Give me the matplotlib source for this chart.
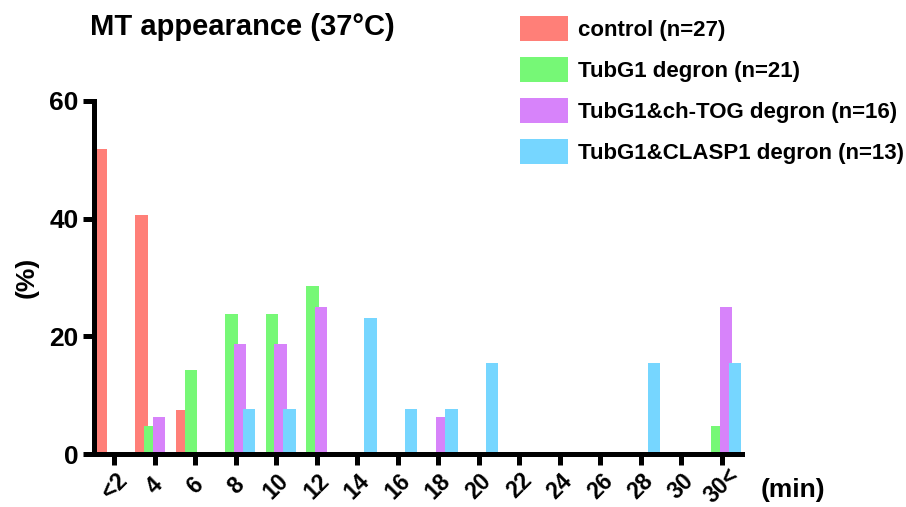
import numpy as np
import matplotlib
matplotlib.use("Agg")
import matplotlib.pyplot as plt

plt.rcParams['font.family'] = ['Liberation Sans', 'DejaVu Sans']
plt.rcParams['font.weight'] = 'bold'

# time bins (min)
cats = ['<2', '4', '6', '8', '10', '12', '14', '16', '18', '20',
        '22', '24', '26', '28', '30', '30<']

# % of cells per bin
control = [51.9, 40.7, 7.4, 0, 0, 0, 0, 0, 0, 0, 0, 0, 0, 0, 0, 0]
tubg1 = [0, 4.8, 14.3, 23.8, 23.8, 28.6, 0, 0, 0, 0, 0, 0, 0, 0, 0, 4.8]
tubg1_tog = [0, 6.25, 0, 18.75, 18.75, 25.0, 0, 0, 6.25, 0, 0, 0, 0, 0, 0, 25.0]
tubg1_clasp = [0, 0, 0, 7.7, 7.7, 0, 23.1, 7.7, 7.7, 15.4, 0, 0, 0, 15.4, 0, 15.4]

labels = ['control (n=27)', 'TubG1 degron (n=21)',
          'TubG1&ch-TOG degron (n=16)', 'TubG1&CLASP1 degron (n=13)']
colors = ['#FF7F78', '#76F876', '#D783FA', '#76D6FF']

W, H = 906, 507
fig = plt.figure(figsize=(W/100, H/100), dpi=100)
ax = fig.add_axes([94/W, 1-454/H, (742-94)/W, (454-101)/H])

x = np.arange(len(cats))
offsets = [-0.33, -0.11, 0.11, 0.33]
for series, off, c, lab in zip([control, tubg1, tubg1_tog, tubg1_clasp], offsets, colors, labels):
    ax.bar(x + off, series, width=0.31, color=c, label=lab)

ax.set_xlim(-0.5, 15.5)
ax.set_ylim(0, 60)
ax.set_yticks([0, 20, 40, 60])
ax.set_xticks(x)
ax.set_xticklabels(cats, rotation=45, rotation_mode='anchor', ha='center', va='center')

for s in ['top', 'right']:
    ax.spines[s].set_visible(False)
for s in ['left', 'bottom']:
    ax.spines[s].set_linewidth(3.6)
ax.tick_params(width=3.6, length=8, labelsize=19, pad=3)
ax.tick_params(axis='x', labelsize=16.5, pad=15)

ax.set_ylabel('(%)', fontsize=19, fontweight='bold', labelpad=8)
fig.text(761/W, 1-490/H, '(min)', fontsize=19, fontweight='bold', va='center', ha='left')
fig.text(90/W, 1-27/H, 'MT appearance (37°C)', fontsize=21, fontweight='bold', va='center', ha='left')

ax.legend(loc='upper left', bbox_to_anchor=(520/W, 1-16/H), bbox_transform=fig.transFigure,
          frameon=False, borderpad=0, borderaxespad=0, handlelength=2.16, handleheight=1.35,
          labelspacing=0.72, handletextpad=0.45, prop={'size': 16, 'weight': 'bold'})

fig.savefig('out.png', dpi=100)
